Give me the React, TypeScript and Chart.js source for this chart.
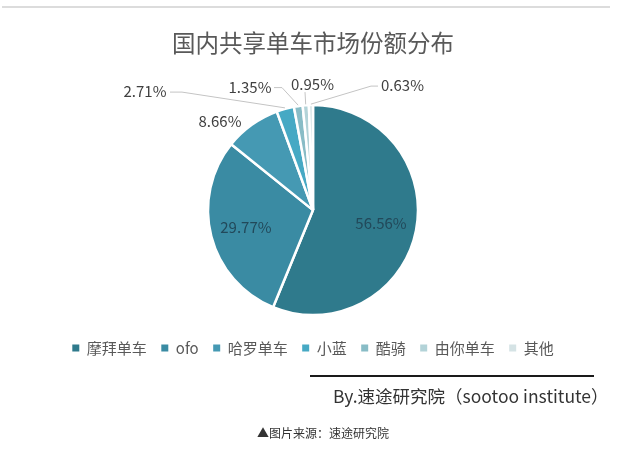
import React, { useEffect, useRef } from "react";
import { Chart, registerables } from "chart.js";

Chart.register(...registerables);

const FONT = "'Noto Sans CJK SC', 'Noto Sans', sans-serif";

const titleText = "国内共享单车市场份额分布";
const categories = ["摩拜单车", "ofo", "哈罗单车", "小蓝", "酷骑", "由你单车", "其他"];
const shares = [56.56, 29.77, 8.66, 2.71, 1.35, 0.95, 0.63];
const sliceColors = ["#2f7a8c", "#3a8ba3", "#4599b3", "#46a9c4", "#88bcc6", "#b3d3d8", "#d5e3e5"];
const sourceText = "By.速途研究院（sootoo institute）";
const captionText = "▲图片来源：速途研究院";

// label placement (pixel offsets relative to pie centre); not data
type Layout =
  | { kind: "inside"; f: number }
  | { kind: "outside"; text: [number, number]; start?: [number, number]; elbow?: [number, number] };
const LABEL_LAYOUT: Layout[] = [
  { kind: "inside", f: 0.66 },
  { kind: "inside", f: 0.66 },
  { kind: "outside", text: [-93, -89] },
  { kind: "outside", text: [-168, -119], start: [-143, -118], elbow: [-131, -118] },
  { kind: "outside", text: [-63, -122.5], start: [-39, -122.5], elbow: [-31, -122.5] },
  { kind: "outside", text: [-0.5, -126], start: [-8, -118] },
  { kind: "outside", text: [89.5, -124.5], start: [65, -124], elbow: [58, -124] },
];

const labelPlugin = {
  id: "sliceLabels",
  afterDatasetsDraw(chart: any) {
    const ctx = chart.ctx as CanvasRenderingContext2D;
    const meta = chart.getDatasetMeta(0);
    const values = chart.data.datasets[0].data as number[];
    ctx.save();
    ctx.font = `15px ${FONT}`;
    ctx.textBaseline = "middle";
    ctx.textAlign = "center";
    meta.data.forEach((arc: any, i: number) => {
      const p = arc.getProps(["x", "y", "startAngle", "endAngle", "outerRadius"], true);
      const mid = (p.startAngle + p.endAngle) / 2;
      const cos = Math.cos(mid);
      const sin = Math.sin(mid);
      const text = values[i].toFixed(2) + "%";
      const lay = LABEL_LAYOUT[i];
      if (lay.kind === "inside") {
        ctx.fillStyle = "#22495a";
        ctx.fillText(text, p.x + cos * p.outerRadius * lay.f, p.y + sin * p.outerRadius * lay.f);
      } else {
        if (lay.start) {
          ctx.strokeStyle = "#c4c4c4";
          ctx.lineWidth = 1;
          ctx.beginPath();
          ctx.moveTo(p.x + lay.start[0], p.y + lay.start[1]);
          if (lay.elbow) ctx.lineTo(p.x + lay.elbow[0], p.y + lay.elbow[1]);
          ctx.lineTo(p.x + cos * (p.outerRadius + 1), p.y + sin * (p.outerRadius + 1));
          ctx.stroke();
        }
        ctx.fillStyle = "#404040";
        ctx.fillText(text, p.x + lay.text[0], p.y + lay.text[1]);
      }
    });
    ctx.restore();
  },
};

export default function App() {
  const canvasRef = useRef<HTMLCanvasElement | null>(null);

  useEffect(() => {
    if (!canvasRef.current) return;
    const chart = new Chart(canvasRef.current, {
      type: "pie",
      data: {
        labels: categories,
        datasets: [
          {
            data: shares,
            backgroundColor: sliceColors,
            borderColor: "#ffffff",
            borderWidth: 2.5,
            radius: 105,
          },
        ],
      },
      options: {
        responsive: false,
        animation: false,
        devicePixelRatio: 1,
        layout: { padding: { top: 0, left: 0, right: 4, bottom: 86.5 } },
        plugins: {
          title: {
            display: true,
            text: titleText,
            color: "#595959",
            font: { family: FONT, size: 23.5, weight: "normal" as any },
            padding: { top: 29, bottom: 37 },
          },
          legend: {
            display: true,
            position: "bottom",
            labels: {
              boxWidth: 7,
              boxHeight: 7,
              padding: 14.5,
              color: "#595959",
              font: { family: FONT, size: 15 },
              generateLabels: (c: any) =>
                (Chart.overrides.pie.plugins.legend.labels.generateLabels as any)(c).map((l: any) => ({
                  ...l,
                  lineWidth: 0,
                  strokeStyle: "rgba(0,0,0,0)",
                })),
            },
          },
          tooltip: { enabled: false },
        },
      },
      plugins: [labelPlugin],
    });
    return () => chart.destroy();
  }, []);

  return (
    <div style={{ position: "fixed", left: 0, top: 0, width: 630, height: 452, background: "#fff", fontFamily: FONT }}>
      <div style={{ position: "absolute", left: 2, top: 6, width: 608, height: 2, background: "#dcdcdc" }} />
      <canvas ref={canvasRef} width={630} height={452} style={{ position: "absolute", left: 0, top: 0 }} />
      <div style={{ position: "absolute", left: 310, top: 375, width: 284, height: 2, background: "#1a1a1a" }} />
      <div
        style={{
          position: "absolute",
          left: 333,
          top: 384,
          height: 24,
          lineHeight: "24px",
          fontSize: 17.5,
          color: "#333",
          whiteSpace: "nowrap",
        }}
      >
        {sourceText}
      </div>
      <div
        style={{
          position: "absolute",
          left: 0,
          width: 646,
          top: 424,
          lineHeight: "18px",
          fontSize: 12,
          color: "#333",
          textAlign: "center",
          whiteSpace: "nowrap",
        }}
      >
        {captionText}
      </div>
    </div>
  );
}
